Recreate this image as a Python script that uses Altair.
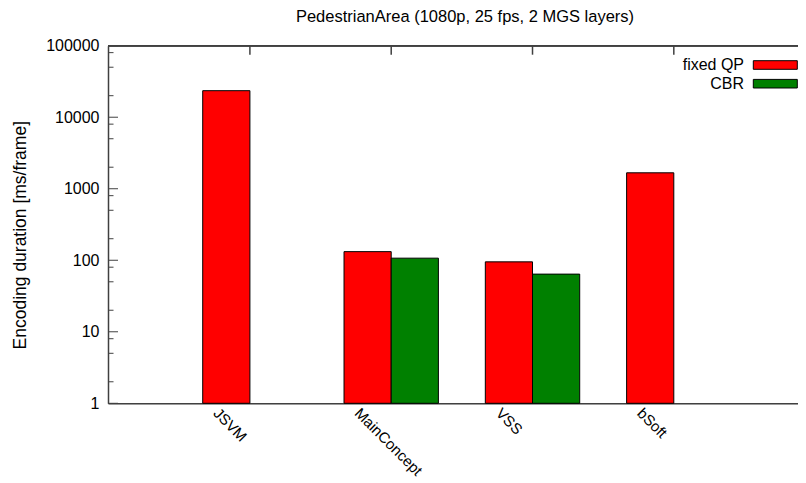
import altair as alt
import pandas as pd

# ---- data ----
categories = ["JSVM", "MainConcept", "VSS", "bSoft"]
series_names = ["fixed QP", "CBR"]
fixed_qp = [23500, 132, 95, 1670]
cbr = [None, 107, 64, None]
series_colors = ["#ff0000", "#008000"]

major_ticks = [1, 10, 100, 1000, 10000, 100000]
minor_mult = [2, 5, 8]
minor_ticks = [m * d for d in major_ticks[:-1] for m in minor_mult]

title_text = "PedestrianArea (1080p, 25 fps, 2 MGS layers)"
y_title = "Encoding duration [ms/frame]"

rows = []
for i, c in enumerate(categories):
    if fixed_qp[i] is not None:
        rows.append({"category": c, "series": "fixed QP", "value": fixed_qp[i]})
    if cbr[i] is not None:
        rows.append({"category": c, "series": "CBR", "value": cbr[i]})
df = pd.DataFrame(rows)

FONT = "Liberation Sans"
W, H = 690, 357.6
AX = "#404040"

yscale = alt.Scale(type="log", domain=[1, 100000], clamp=True)
yaxis = alt.Axis(values=major_ticks, format="d", ticks=False, tickSize=0,
                 labelPadding=9, labelFontSize=16, labelFont=FONT, labelColor="black",
                 titleFontSize=17.5, titleFont=FONT, titleFontWeight="normal",
                 titleColor="black", titleX=-88, titleY=189, titleAngle=270,
                 titleAlign="center", titleBaseline="middle", grid=False,
                 domainColor=AX, domainWidth=1.5)
xscale = alt.Scale(domain=categories, paddingInner=0.332, paddingOuter=0.6076, align=0.5516)
xaxis = alt.Axis(labelAngle=45, labelAlign="left", labelBaseline="top", labelOffset=-29,
                 labelPadding=2, ticks=False, tickSize=0, labelFontSize=15, labelFont=FONT,
                 labelColor="black", title=None, domainColor=AX, domainWidth=1.5, grid=False)


def X():
    return alt.X("category:N", scale=xscale, axis=xaxis, sort=categories)


def Y(field):
    return alt.Y(f"{field}:Q", scale=yscale, axis=yaxis, title=y_title)


bars = alt.Chart(df).mark_bar(stroke="black", strokeWidth=1).encode(
    x=X(),
    xOffset=alt.XOffset("series:N", sort=series_names,
                        scale=alt.Scale(domain=series_names, paddingInner=0, paddingOuter=0)),
    y=Y("value"),
    color=alt.Color("series:N", scale=alt.Scale(domain=series_names, range=series_colors), legend=None),
)

major_df = pd.DataFrame({"value": major_ticks})
minor_df = pd.DataFrame({"value": minor_ticks})
cat_df = pd.DataFrame({"category": categories})

major_rules = alt.Chart(major_df).mark_rule(color=AX, strokeWidth=1).encode(
    y=Y("value"), x=alt.value(0), x2=alt.value(10))
minor_rules = alt.Chart(minor_df).mark_rule(color=AX, strokeWidth=1).encode(
    y=Y("value"), x=alt.value(0), x2=alt.value(5.5))
top_ticks = alt.Chart(cat_df).mark_rule(color=AX, strokeWidth=1.5).encode(
    x=X(), y=alt.value(0), y2=alt.value(9))
top_border = alt.Chart(cat_df).mark_rule(color=AX, strokeWidth=1.5).encode(
    x=alt.value(0), x2=alt.value(W), y=alt.value(0))

legend_layers = []
legend_y = [19.3, 38.0]
for name, col, ly in zip(series_names, series_colors, legend_y):
    ldf = pd.DataFrame({"label": [name]})
    legend_layers.append(alt.Chart(ldf).mark_text(align="right", baseline="middle", fontSize=16,
                                                  font=FONT, color="black").encode(
        text="label:N", x=alt.value(636), y=alt.value(ly)))
    legend_layers.append(alt.Chart(ldf).mark_rect(fill=col, stroke="black", strokeWidth=1).encode(
        x=alt.value(645.3), x2=alt.value(689.3), y=alt.value(ly - 4.3), y2=alt.value(ly + 4.3)))

chart = alt.layer(major_rules, minor_rules, top_ticks, bars, top_border, *legend_layers).properties(
    width=W, height=H,
    title=alt.TitleParams(title_text, fontSize=16.5, font=FONT, fontWeight="normal", color="black",
                          anchor="middle", offset=12.5, dx=12),
    autosize=alt.AutoSizeParams(type="none"),
    padding={"left": 100, "top": 37.7, "right": 0, "bottom": 77},
).configure_view(stroke=None).configure(background="white")

chart.save("out.html", embed_options={"renderer": "svg", "actions": False})
